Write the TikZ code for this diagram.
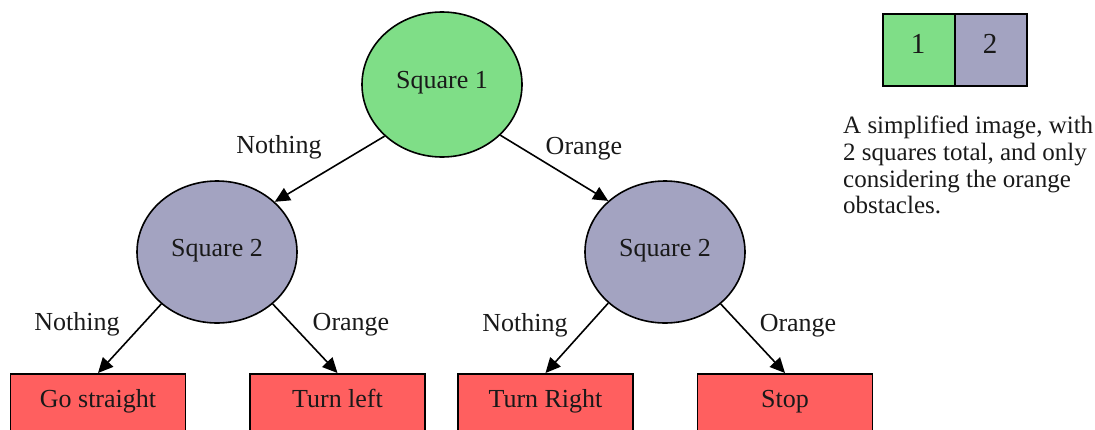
\documentclass[tikz,border=0pt]{standalone}
\usepackage{fontspec}
\setmainfont{Liberation Serif}
\usetikzlibrary{shapes.geometric,arrows.meta}

\definecolor{sqgreen}{RGB}{127,222,135}
\definecolor{sqpurple}{RGB}{163,163,193}
\definecolor{actred}{RGB}{255,95,95}

\tikzset{
  txt/.style={font=\fontsize{26}{30}\selectfont, text=black!90,
              text height=18pt, text depth=6pt, inner sep=0pt},
  decision/.style={ellipse, draw, line width=1.6pt, inner sep=0pt},
  action/.style={rectangle, draw, line width=1.6pt, fill=actred, inner sep=0pt,
                 minimum width=175pt, minimum height=60pt, anchor=north},
  edge/.style={line width=1.6pt, -{Triangle[length=15pt,width=14pt]}},
  cell/.style={rectangle, draw, line width=1.6pt, minimum width=72pt, minimum height=72pt,
               inner sep=0pt, anchor=north west},
  digit/.style={txt, font=\fontsize{29}{32}\selectfont, text height=20pt, text depth=7pt},
  noteline/.style={font=\fontsize{25}{30}\selectfont, text=black!90, anchor=base west,
                   inner sep=0pt},
}

\begin{document}
\begin{tikzpicture}[x=1pt, y=-1pt]
  \useasboundingbox (0,0) rectangle (1095,429);
  \clip (0,0) rectangle (1095,429);

  % decision nodes
  \node[decision, fill=sqgreen, minimum width=160pt, minimum height=145pt] (s1) at (442,84.5) {};
  \node[txt] (s1t) at (442,82) {Square 1};
  \node[decision, fill=sqpurple, minimum width=160pt, minimum height=142pt] (s2l) at (217,252) {};
  \node[txt] (s2lt) at (217,250) {Square 2};
  \node[decision, fill=sqpurple, minimum width=160pt, minimum height=142pt] (s2r) at (665,252) {};
  \node[txt] (s2rt) at (665,250) {Square 2};

  % actions
  \node[action] (go) at (98,373) {};
  \node[txt] (got) at (98,401) {Go straight};
  \node[action] (tl) at (337.5,373) {};
  \node[txt] (tlt) at (337.5,401) {Turn left};
  \node[action] (tr) at (545.5,373) {};
  \node[txt] (trt) at (545.5,401) {Turn Right};
  \node[action] (st) at (785,373) {};
  \node[txt] (stt) at (785,401) {Stop};

  % connectors
  \draw[edge] (s1.222.6) -- (s2l.41.3);
  \draw[edge] (s1.319.5) -- (s2r.138.2);
  \draw[edge] (s2l.223.4) -- (go.north);
  \draw[edge] (s2l.317.6) -- (tl.north);
  \draw[edge] (s2r.222.9) -- (tr.north);
  \draw[edge] (s2r.317.6) -- (st.north);

  % branch conditions
  \node[txt] (c1) at (279,147) {Nothing};
  \node[txt] (c2) at (584,148) {Orange};
  \node[txt] (c3) at (77,324) {Nothing};
  \node[txt] (c4) at (351,324) {Orange};
  \node[txt] (c5) at (525,325) {Nothing};
  \node[txt] (c6) at (798,325) {Orange};

  % legend
  \node[cell, fill=sqgreen] (k1) at (882,13) {};
  \node[cell, fill=sqpurple] (k2) at (954,13) {};
  \node[digit] (k1t) at (918,46.5) {1};
  \node[digit] (k2t) at (990,46.5) {2};
  \node[noteline] (n1) at (843,133) {A simplified image, with};
  \node[noteline] (n2) at (843,160) {2 squares total, and only};
  \node[noteline] (n3) at (843,187) {considering the orange};
  \node[noteline] (n4) at (843,213) {obstacles.};
\end{tikzpicture}
\end{document}
